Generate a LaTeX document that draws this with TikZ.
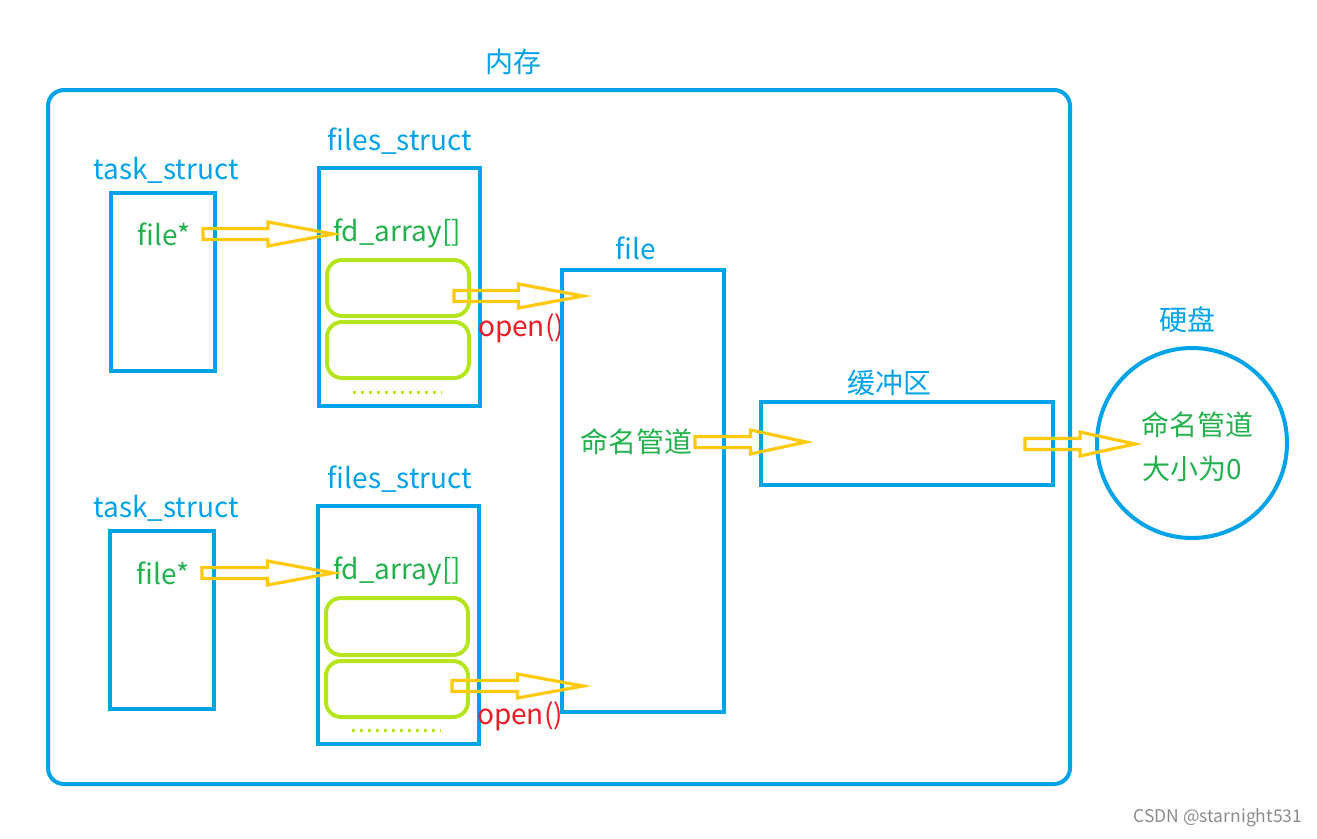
\documentclass[tikz,border=0pt]{standalone}
\usepackage{fontspec}
\setmainfont{Noto Sans CJK SC}
\usetikzlibrary{calc}
\definecolor{pblue}{HTML}{00A2E8}
\definecolor{pgreen}{HTML}{22B14C}
\definecolor{pred}{HTML}{ED1C24}
\definecolor{pyellow}{HTML}{FFC90E}
\definecolor{plime}{HTML}{B5E61D}
\newcommand\blkarrow[2]{%
  \draw[blkarr] ($(#1)+(0,5.5)$) -- ($($(#1)!0.5!(#2)$)+(0,5.5)$) -- ($($(#1)!0.5!(#2)$)+(0,12)$) -- (#2)
    -- ($($(#1)!0.5!(#2)$)+(0,-12)$) -- ($($(#1)!0.5!(#2)$)+(0,-5.5)$) -- ($(#1)+(0,-5.5)$) -- cycle;}
\begin{document}
\begin{tikzpicture}[x=1pt,y=-1pt,
  txt/.style={inner sep=0pt,font=\fontsize{28}{31}\selectfont},
  bluetxt/.style={txt,text=pblue},
  greentxt/.style={txt,text=pgreen},
  redtxt/.style={txt,text=pred},
  bluebox/.style={draw=pblue,line width=4pt},
  limebox/.style={draw=plime,line width=4pt,rounded corners=15pt},
  dots/.style={draw=plime,line width=3pt,dash pattern=on 3pt off 5pt},
  blkarr/.style={draw=pyellow,line width=3.2pt,line join=miter}]
\useasboundingbox (0,0) rectangle (1317,838);
% memory
\draw[bluebox,rounded corners=16pt] (48,90) rectangle (1070,784);
\node[bluetxt] (mem) at (513,62) {内存};
% upper group
\node[bluetxt] (ts1) at (166,170) {task\_struct};
\draw[bluebox] (111,193) rectangle (215,371);
\node[greentxt] (fp1) at (164,234) {file*};
\node[bluetxt] (fs1) at (400,141) {files\_struct};
\draw[bluebox] (319,168) rectangle (480,406);
\node[greentxt] (fd1) at (397,233) {fd\_array[]};
\draw[limebox] (327,260) rectangle (469,316);
\draw[limebox] (327,322) rectangle (469,378);
\draw[dots] (353,392) -- (442,392);
\node[redtxt] (op1) at (521,328) {open()};
% lower group
\node[bluetxt] (ts2) at (166,508) {task\_struct};
\draw[bluebox] (110,531) rectangle (214,709);
\node[greentxt] (fp2) at (163,573) {file*};
\node[bluetxt] (fs2) at (400,479) {files\_struct};
\draw[bluebox] (318,506) rectangle (479,744);
\node[greentxt] (fd2) at (397,571) {fd\_array[]};
\draw[limebox] (326,598) rectangle (468,655);
\draw[limebox] (326,661) rectangle (468,717);
\draw[dots] (352,730) -- (441,730);
\node[redtxt] (op2) at (520,716) {open()};
% file
\node[bluetxt] (filel) at (636,248) {file};
\draw[bluebox] (562,270) rectangle (724,712);
\node[greentxt] (pipe) at (636,442) {命名管道};
% buffer
\node[bluetxt] (bufl) at (889,383) {缓冲区};
\draw[bluebox] (761,402) rectangle (1053,485);
% disk
\node[bluetxt] (diskl) at (1187,320) {硬盘};
\node[draw=pblue,line width=4pt,circle,minimum size=190pt] (disk) at (1192,443) {};
\node[greentxt] (dp1) at (1197,425) {命名管道};
\node[greentxt] (dp2) at (1192,469) {大小为0};
% arrows
\coordinate (a1s) at (203,234); \coordinate (a1e) at (333,234);
\coordinate (a2s) at (454,296); \coordinate (a2e) at (583,296);
\coordinate (a3s) at (695,442); \coordinate (a3e) at (806,442);
\coordinate (a4s) at (1025,444); \coordinate (a4e) at (1135,444);
\coordinate (a5s) at (202,573); \coordinate (a5e) at (333,573);
\coordinate (a6s) at (452,686); \coordinate (a6e) at (583,686);
\blkarrow{a1s}{a1e}
\blkarrow{a2s}{a2e}
\blkarrow{a3s}{a3e}
\blkarrow{a4s}{a4e}
\blkarrow{a5s}{a5e}
\blkarrow{a6s}{a6e}
% watermark
\node[inner sep=0pt,text=black!45,font=\fontsize{17.5}{19}\selectfont] (wm) at (1218,818) {CSDN @starnight531};
\end{tikzpicture}
\end{document}
